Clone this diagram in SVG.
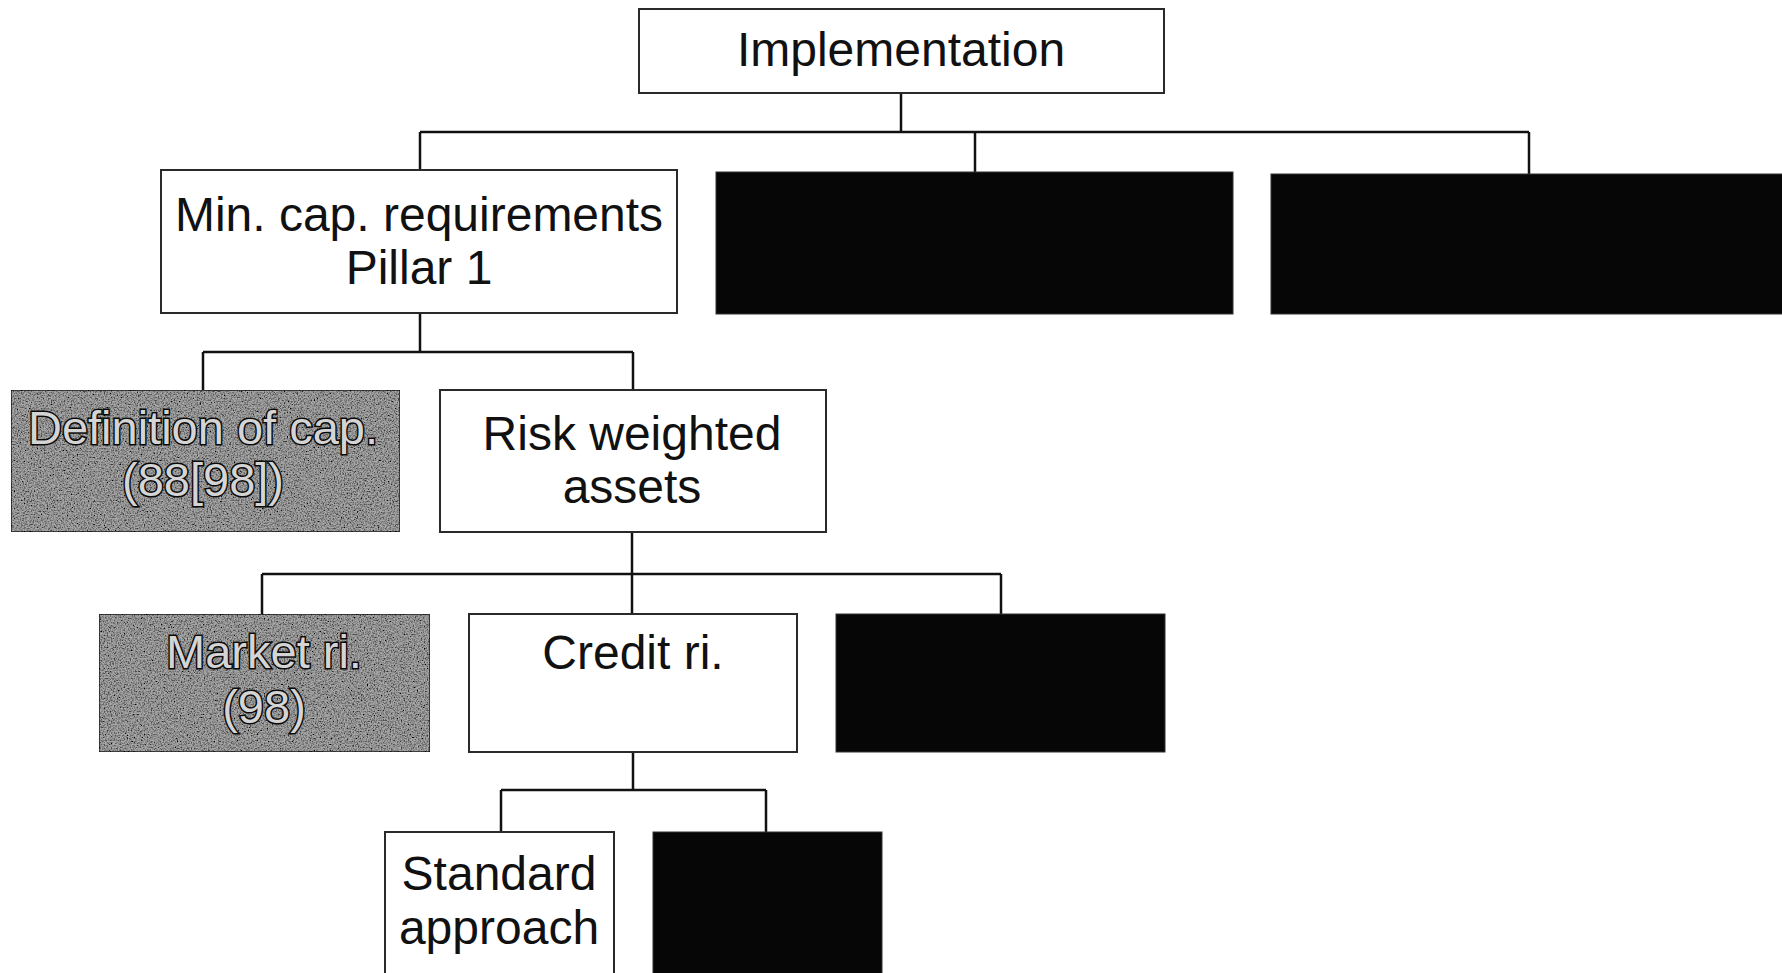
<svg xmlns="http://www.w3.org/2000/svg" width="1782" height="973" viewBox="0 0 1782 973">
<style>
.box{fill:#ffffff;stroke:#2a2a2a;stroke-width:2}
.dark{fill:#060606;stroke:#333;stroke-width:1}
.gray{fill:#a8a8a8;stroke:#222;stroke-width:1.5}
.lbl{font-family:"Liberation Sans",Arial,sans-serif;font-size:48px;fill:#111;text-anchor:middle}
.emb{font-family:"Liberation Sans",Arial,sans-serif;font-size:47px;fill:#d4d4d4;stroke:#0a0a0a;stroke-width:3;text-anchor:middle;paint-order:stroke}
.conn{fill:none;stroke:#111;stroke-width:2.5}
</style>
<defs>
<filter id="grain" x="0" y="0" width="1" height="1">
<feTurbulence type="fractalNoise" baseFrequency="0.7" numOctaves="2" seed="4" result="n"/>
<feColorMatrix in="n" type="saturate" values="0" result="g"/>
<feComponentTransfer in="g" result="c">
<feFuncR type="linear" slope="3" intercept="-0.8"/>
<feFuncG type="linear" slope="3" intercept="-0.8"/>
<feFuncB type="linear" slope="3" intercept="-0.8"/>
<feFuncA type="linear" slope="0" intercept="1"/>
</feComponentTransfer>
<feBlend in="SourceGraphic" in2="c" mode="multiply" result="m"/>
<feComposite in="m" in2="SourceAlpha" operator="in"/>
</filter>
</defs>
<g id="connectors">
<path class="conn" d="M901,93 V132 M420,132 H1529 M420,132 V170 M975,132 V172 M1529,132 V174"/>
<path class="conn" d="M420,313 V352 M203,352 H633 M203,352 V390 M633,352 V390"/>
<path class="conn" d="M632,532 V574 M262,574 H1001 M262,574 V614 M632,574 V614 M1001,574 V614"/>
<path class="conn" d="M633,752 V790 M501,790 H766 M501,790 V832 M766,790 V832"/>
</g>
<g id="n-implementation">
<rect class="box" x="639" y="9" width="525" height="84"/>
<text class="lbl" x="901" y="66">Implementation</text>
</g>
<g id="n-pillar1">
<rect class="box" x="161" y="170" width="516" height="143"/>
<text class="lbl" x="419" y="231">Min. cap. requirements</text>
<text class="lbl" x="419" y="284">Pillar 1</text>
</g>
<g id="n-black2"><rect class="dark" x="716" y="172" width="517" height="142"/></g>
<g id="n-black3"><rect class="dark" x="1271" y="174" width="515" height="140"/></g>
<g id="n-definition">
<rect class="gray" x="11" y="390" width="389" height="142" filter="url(#grain)"/>
<text class="emb" x="203" y="444">Definition of cap.</text>
<text class="emb" x="203" y="496">(88[98])</text>
</g>
<g id="n-rwa">
<rect class="box" x="440" y="390" width="386" height="142"/>
<text class="lbl" x="632" y="450">Risk weighted</text>
<text class="lbl" x="632" y="503">assets</text>
</g>
<g id="n-market">
<rect class="gray" x="99" y="614" width="331" height="138" filter="url(#grain)"/>
<text class="emb" x="264" y="668">Market ri.</text>
<text class="emb" x="264" y="723">(98)</text>
</g>
<g id="n-credit">
<rect class="box" x="469" y="614" width="328" height="138"/>
<text class="lbl" x="633" y="669">Credit ri.</text>
</g>
<g id="n-black-row3"><rect class="dark" x="836" y="614" width="329" height="138"/></g>
<g id="n-standard">
<rect class="box" x="385" y="832" width="229" height="150"/>
<text class="lbl" x="499" y="890">Standard</text>
<text class="lbl" x="499" y="944">approach</text>
</g>
<g id="n-black-row4"><rect class="dark" x="653" y="832" width="229" height="150"/></g>
</svg>
